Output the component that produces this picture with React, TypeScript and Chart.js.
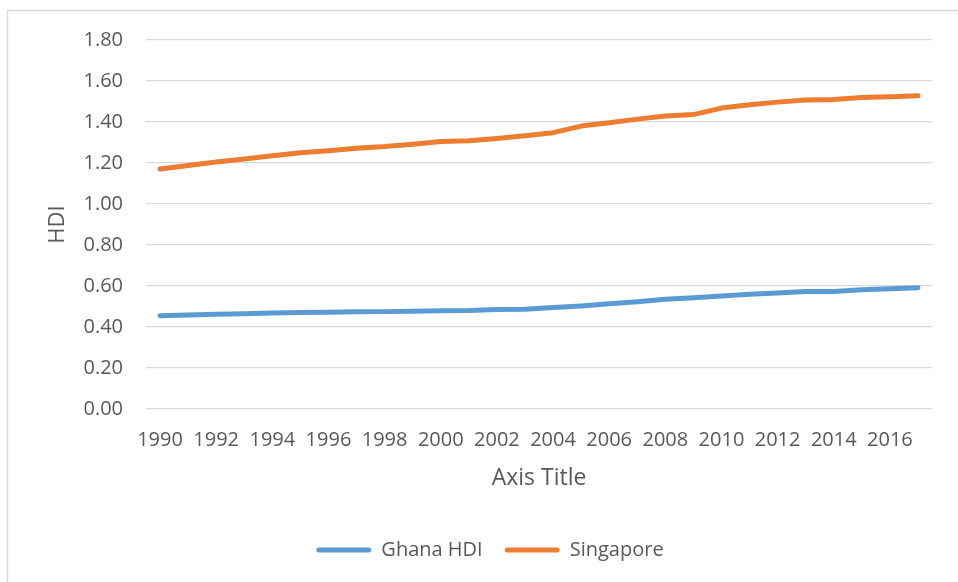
import { useEffect, useRef } from "react";
import { Chart, registerables } from "chart.js";

Chart.register(...registerables);

const years = [
  "1990", "1991", "1992", "1993", "1994", "1995", "1996", "1997", "1998", "1999",
  "2000", "2001", "2002", "2003", "2004", "2005", "2006", "2007", "2008", "2009",
  "2010", "2011", "2012", "2013", "2014", "2015", "2016", "2017",
];

const ghanaHDI = [
  0.455, 0.459, 0.462, 0.465, 0.468, 0.471, 0.472, 0.474, 0.475, 0.477,
  0.479, 0.480, 0.485, 0.487, 0.495, 0.503, 0.513, 0.523, 0.535, 0.543,
  0.551, 0.560, 0.566, 0.573, 0.573, 0.582, 0.587, 0.592,
];

const singapore = [
  1.171, 1.188, 1.205, 1.220, 1.235, 1.250, 1.260, 1.272, 1.280, 1.292,
  1.305, 1.309, 1.320, 1.333, 1.348, 1.380, 1.396, 1.414, 1.429, 1.436,
  1.468, 1.484, 1.497, 1.507, 1.510, 1.520, 1.523, 1.528,
];

const seriesNames = ["Ghana HDI", "Singapore"];
const seriesColors = ["#5B9BD5", "#ED7D31"];
const yMin = 0;
const yMax = 1.8;
const yStep = 0.2;
const xTitle = "Axis Title";
const yTitle = "HDI";

const TEXT = "#595959";
const GRID = "#d9d9d9";
const FONT = "'Open Sans', sans-serif";

export default function App() {
  const ref = useRef<HTMLCanvasElement>(null);

  useEffect(() => {
    if (!ref.current) return;
    const framePlugin = {
      id: "frame",
      beforeDraw(chart: any) {
        const ctx = chart.ctx;
        ctx.save();
        ctx.strokeStyle = GRID;
        ctx.lineWidth = 1.5;
        ctx.beginPath();
        ctx.moveTo(7.5, 600);
        ctx.lineTo(7.5, 10.5);
        ctx.lineTo(1000, 10.5);
        ctx.stroke();
        ctx.restore();
      },
    };

    const chart = new Chart(ref.current, {
      type: "line",
      data: {
        labels: years,
        datasets: [
          {
            label: seriesNames[0],
            data: ghanaHDI,
            borderColor: seriesColors[0],
            backgroundColor: seriesColors[0],
            borderWidth: 5,
            pointRadius: 0,
            borderCapStyle: "round",
            borderJoinStyle: "round",
            tension: 0,
          },
          {
            label: seriesNames[1],
            data: singapore,
            borderColor: seriesColors[1],
            backgroundColor: seriesColors[1],
            borderWidth: 5,
            pointRadius: 0,
            borderCapStyle: "round",
            borderJoinStyle: "round",
            tension: 0,
          },
        ],
      },
      options: {
        responsive: false,
        animation: false,
        devicePixelRatio: 1,
        layout: { padding: { left: 48, right: 26, top: 40, bottom: 12 } },
        font: { family: FONT },
        plugins: {
          tooltip: { enabled: false },
          legend: {
            position: "bottom",
            labels: {
              boxWidth: 55,
              boxHeight: 5,
              padding: 22,
              useBorderRadius: true,
              color: TEXT,
              font: { family: FONT, size: 20 },
              generateLabels: (c: any) =>
                c.data.datasets.map((ds: any, i: number) => ({
                  text: ds.label,
                  fillStyle: ds.borderColor,
                  strokeStyle: ds.borderColor,
                  lineWidth: 0,
                  hidden: false,
                  datasetIndex: i,
                  borderRadius: 2.5,
                  fontColor: TEXT,
                })),
            },
          },
        },
        scales: {
          x: {
            offset: true,
            grid: { display: false, drawTicks: false, offset: true },
            border: { display: false },
            ticks: {
              autoSkip: false,
              maxRotation: 0,
              minRotation: 0,
              padding: 19,
              color: TEXT,
              font: { family: FONT, size: 20 },
              callback: (_v: any, i: number) => (i % 2 === 0 ? years[i] : ""),
            },
            title: {
              display: true,
              text: xTitle,
              color: TEXT,
              font: { family: FONT, size: 23 },
              padding: { top: 0, bottom: 26 },
            },
            afterFit: (s: any) => {
              s.height = 109;
            },
          },
          y: {
            min: yMin,
            max: yMax,
            grid: { color: GRID, lineWidth: 1.3, drawTicks: false },
            border: { display: false },
            ticks: {
              stepSize: yStep,
              padding: 23,
              color: TEXT,
              font: { family: FONT, size: 20 },
              callback: (v: any) => Number(v).toFixed(2),
            },
            title: {
              display: true,
              text: yTitle,
              color: TEXT,
              font: { family: FONT, size: 22 },
              padding: { top: -3, bottom: 0 },
            },
            afterFit: (s: any) => {
              s.width = 98;
            },
          },
        },
      },
      plugins: [framePlugin],
    } as any);
    return () => chart.destroy();
  }, []);

  return (
    <div style={{ position: "fixed", left: 0, top: 0, width: 958, height: 582, background: "#fff" }}>
      <canvas ref={ref} width={958} height={582} style={{ display: "block" }} />
    </div>
  );
}
